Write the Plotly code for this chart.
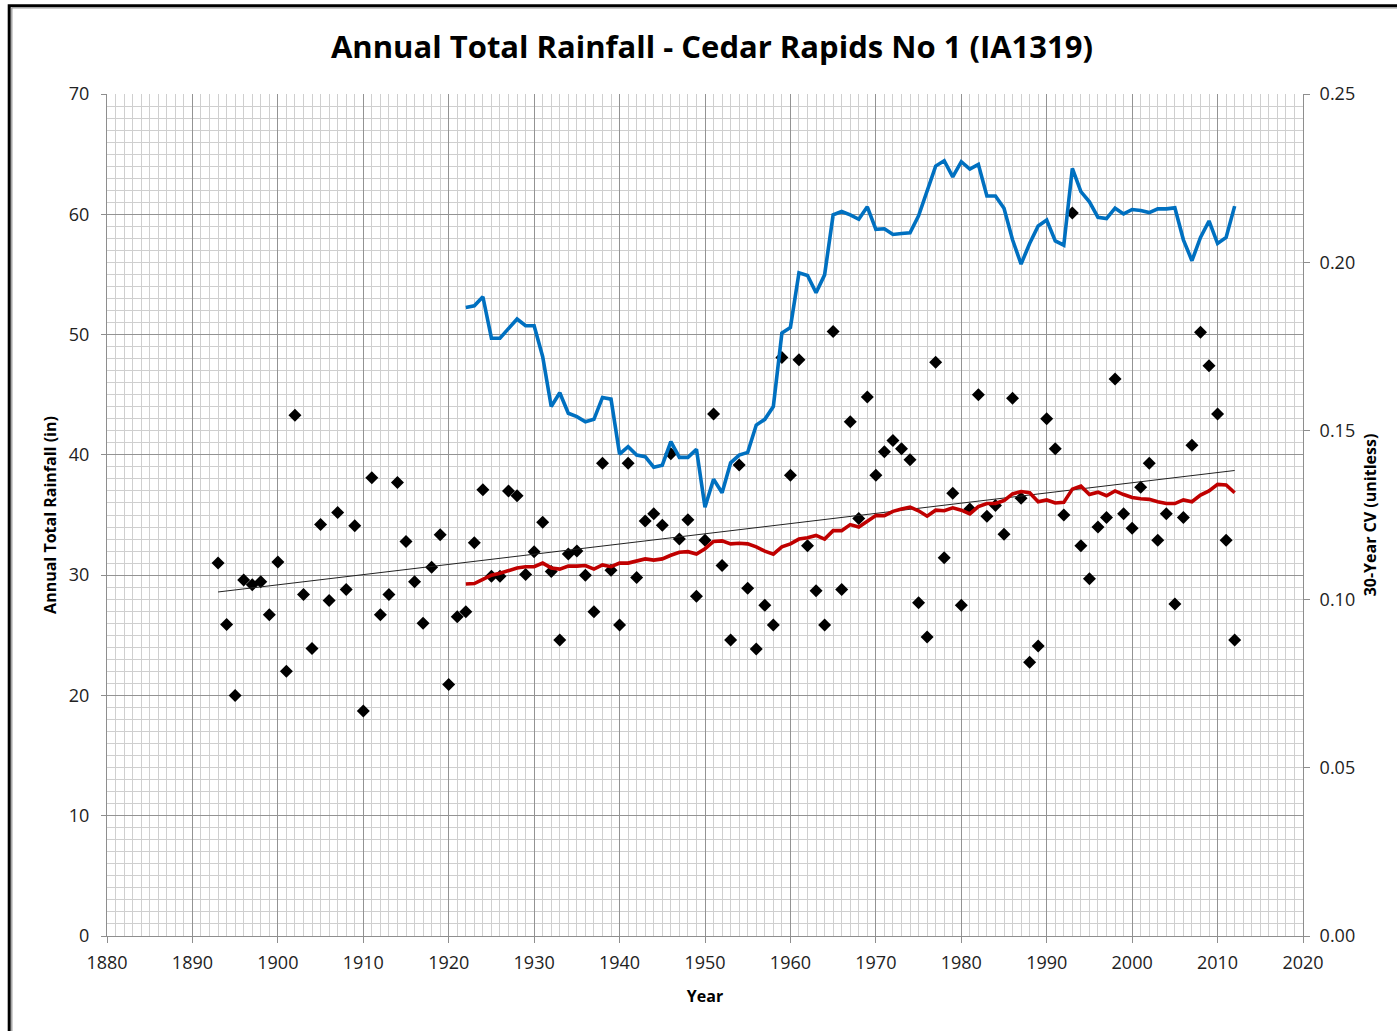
import plotly.graph_objects as go

# ---------------- data ----------------
years = list(range(1893, 2013))
rainfall = [
    31.0, 25.9, 20.0, 29.6, 29.2, 29.45, 26.7,            # 1893-1899
    31.1, 22.0, 43.3, 28.4, 23.9, 34.2, 27.9, 35.2, 28.8, 34.1,   # 1900-1909
    18.7, 38.1, 26.7, 28.4, 37.7, 32.8, 29.45, 26.0, 30.65, 33.35,  # 1910-1919
    20.9, 26.55, 26.95, 32.7, 37.1, 29.9, 29.9, 37.0, 36.6, 30.05,  # 1920-1929
    31.95, 34.4, 30.3, 24.6, 31.75, 32.0, 30.0, 26.95, 39.3, 30.4,  # 1930-1939
    25.85, 39.3, 29.8, 34.5, 35.1, 34.15, 40.1, 33.0, 34.6, 28.25,  # 1940-1949
    32.9, 43.4, 30.8, 24.6, 39.15, 28.9, 23.85, 27.5, 25.85, 48.1,  # 1950-1959
    38.3, 47.9, 32.45, 28.7, 25.85, 50.25, 28.8, 42.75, 34.7, 44.8, # 1960-1969
    38.3, 40.25, 41.2, 40.5, 39.6, 27.7, 24.85, 47.7, 31.45, 36.8,  # 1970-1979
    27.5, 35.5, 45.0, 34.9, 35.8, 33.4, 44.7, 36.4, 22.75, 24.1,    # 1980-1989
    43.0, 40.5, 35.0, 60.1, 32.45, 29.7, 34.0, 34.8, 46.3, 35.1,    # 1990-1999
    33.9, 37.3, 39.3, 32.9, 35.1, 27.6, 34.8, 40.8, 50.2, 47.4,     # 2000-2009
    43.4, 32.9, 24.6,                                               # 2010-2012
]

ma_years = list(range(1922, 2013))
moving_avg = [
    29.26, 29.3, 29.65, 30.0, 30.15, 30.4, 30.6, 30.7,              # 1922-1929
    30.7, 31.0, 30.6, 30.5, 30.75, 30.75, 30.8, 30.5, 30.85, 30.7,  # 1930-1939
    31.0, 31.0, 31.2, 31.35, 31.25, 31.35, 31.65, 31.9, 31.95, 31.75,  # 1940-1949
    32.2, 32.8, 32.85, 32.6, 32.65, 32.6, 32.35, 32.0, 31.75, 32.35,   # 1950-1959
    32.6, 33.0, 33.1, 33.3, 33.0, 33.7, 33.7, 34.2, 34.0, 34.5,        # 1960-1969
    34.95, 34.95, 35.3, 35.5, 35.65, 35.35, 34.9, 35.4, 35.35, 35.6,   # 1970-1979
    35.4, 35.1, 35.7, 35.95, 35.95, 36.2, 36.75, 36.95, 36.85, 36.1,   # 1980-1989
    36.25, 36.0, 36.05, 37.15, 37.4, 36.7, 36.9, 36.6, 37.0, 36.7,     # 1990-1999
    36.45, 36.35, 36.3, 36.1, 35.95, 35.95, 36.25, 36.1, 36.65, 37.0,  # 2000-2009
    37.55, 37.5, 36.85,                                                # 2010-2012
]

cv_30yr = [
    0.1866, 0.1871, 0.1898, 0.1775, 0.1775, 0.1804, 0.1832, 0.1812,             # 1922-1929
    0.1812, 0.1720, 0.1572, 0.1613, 0.1552, 0.1542, 0.1527, 0.1534, 0.1599, 0.1594,  # 1930-1939
    0.1431, 0.1453, 0.1428, 0.1423, 0.1392, 0.1398, 0.1468, 0.1421, 0.1421, 0.1445,  # 1940-1949
    0.1273, 0.1356, 0.1316, 0.1405, 0.1428, 0.1436, 0.1517, 0.1534, 0.1572, 0.1790,  # 1950-1959
    0.1807, 0.1969, 0.1961, 0.1910, 0.1963, 0.2141, 0.2151, 0.2141, 0.2128, 0.2165,  # 1960-1969
    0.2098, 0.2100, 0.2083, 0.2086, 0.2088, 0.2138, 0.2215, 0.2286, 0.2302, 0.2254,  # 1970-1979
    0.2299, 0.2277, 0.2291, 0.2197, 0.2197, 0.2161, 0.2067, 0.1995, 0.2056, 0.2108,  # 1980-1989
    0.2126, 0.2064, 0.2051, 0.2279, 0.2210, 0.2180, 0.2134, 0.2130, 0.2161, 0.2144,  # 1990-1999
    0.2157, 0.2154, 0.2148, 0.2159, 0.2159, 0.2162, 0.2067, 0.2005, 0.2074, 0.2123,  # 2000-2009
    0.2056, 0.2074, 0.2167,                                                          # 2010-2012
]

trend_years = [1893, 2012]
trend_values = [28.6, 38.7]

title_text = "Annual Total Rainfall - Cedar Rapids No 1 (IA1319)"
x_title = "Year"
y_title = "Annual Total Rainfall (in)"
y2_title = "30-Year CV (unitless)"

# ---------------- figure ----------------
FONT = "Open Sans"
W, H = 1397, 1031
ML, MR, MT, MB = 107, 94, 94, 95

fig = go.Figure()
fig.add_trace(go.Scatter(
    x=years, y=rainfall, mode="markers", name="Annual total",
    marker=dict(symbol="diamond", size=10, color="black"),
))
fig.add_trace(go.Scatter(
    x=trend_years, y=trend_values, mode="lines", name="Trend",
    line=dict(color="#222222", width=1),
))
fig.add_trace(go.Scatter(
    x=ma_years, y=moving_avg, mode="lines", name="30-yr mean",
    line=dict(color="#C00000", width=3.6),
))
fig.add_trace(go.Scatter(
    x=ma_years, y=cv_30yr, mode="lines", name="30-yr CV", yaxis="y2",
    line=dict(color="#0070C0", width=3.6),
))

major_grid = "#939393"
minor_grid = "#cfcfcf"
axis_col = "#8e8e8e"
tick_font = dict(family=FONT, size=18, color="#222222")
axis_title_font = dict(family=FONT, size=16, color="black", weight="bold")

pw = W - ML - MR
ph = H - MT - MB
def xp(px):
    return (px - ML) / pw
def yp(py):
    return (H - MB - py) / ph

fig.update_layout(
    width=W, height=H,
    margin=dict(l=ML, r=MR, t=MT, b=MB, pad=0),
    paper_bgcolor="white", plot_bgcolor="white",
    showlegend=False,
    title=dict(text=title_text, x=712 / W, xref="container", xanchor="center",
               y=1 - 47 / H, yref="container", yanchor="middle",
               font=dict(family=FONT, size=31, color="black", weight="bold")),
    xaxis=dict(
        range=[1880, 2020], tick0=1880, dtick=10,
        showgrid=True, gridcolor=major_grid, gridwidth=1,
        minor=dict(dtick=1, tick0=1880, showgrid=True, gridcolor=minor_grid, gridwidth=1),
        ticks="outside", ticklen=6, tickcolor=axis_col,
        showline=True, linecolor=axis_col, linewidth=1,
        zeroline=False, tickfont=tick_font, ticklabelstandoff=4,
        title=dict(text=x_title, font=axis_title_font, standoff=18),
    ),
    yaxis=dict(
        range=[0, 70], tick0=0, dtick=10,
        showgrid=True, gridcolor=major_grid, gridwidth=1,
        minor=dict(dtick=1, tick0=0, showgrid=True, gridcolor=minor_grid, gridwidth=1),
        ticks="outside", ticklen=5, tickcolor=axis_col,
        showline=True, linecolor=axis_col, linewidth=1,
        zeroline=False, tickfont=tick_font, ticklabelstandoff=8,
        title=dict(text=y_title, font=axis_title_font, standoff=8),
    ),
    yaxis2=dict(
        overlaying="y", side="right", anchor="x",
        range=[0, 0.25], tick0=0, dtick=0.05, tickformat=".2f",
        showgrid=False, zeroline=False,
        ticks="outside", ticklen=6, tickcolor=axis_col,
        showline=True, linecolor=axis_col, linewidth=1,
        tickfont=tick_font, ticklabelstandoff=6,
        title=dict(text=y2_title, font=axis_title_font, standoff=10),
    ),
    shapes=[
        dict(type="rect", xref="paper", yref="paper",
             x0=xp(9.2), x1=xp(1420), y0=yp(1060), y1=yp(5.8),
             line=dict(color="black", width=3), fillcolor="rgba(0,0,0,0)", layer="above"),
        dict(type="line", xref="paper", yref="paper",
             x0=xp(11.8), x1=xp(11.8), y0=yp(1060), y1=yp(7.9),
             line=dict(color="#9a9a9a", width=1.3)),
        dict(type="line", xref="paper", yref="paper",
             x0=xp(11.8), x1=xp(1420), y0=yp(7.9), y1=yp(7.9),
             line=dict(color="#9a9a9a", width=1.3)),
    ],
)

fig.write_html(
    "out.html",
    config={"displayModeBar": False},
    post_script="document.body.style.margin='0';document.body.style.overflow='hidden';",
)
